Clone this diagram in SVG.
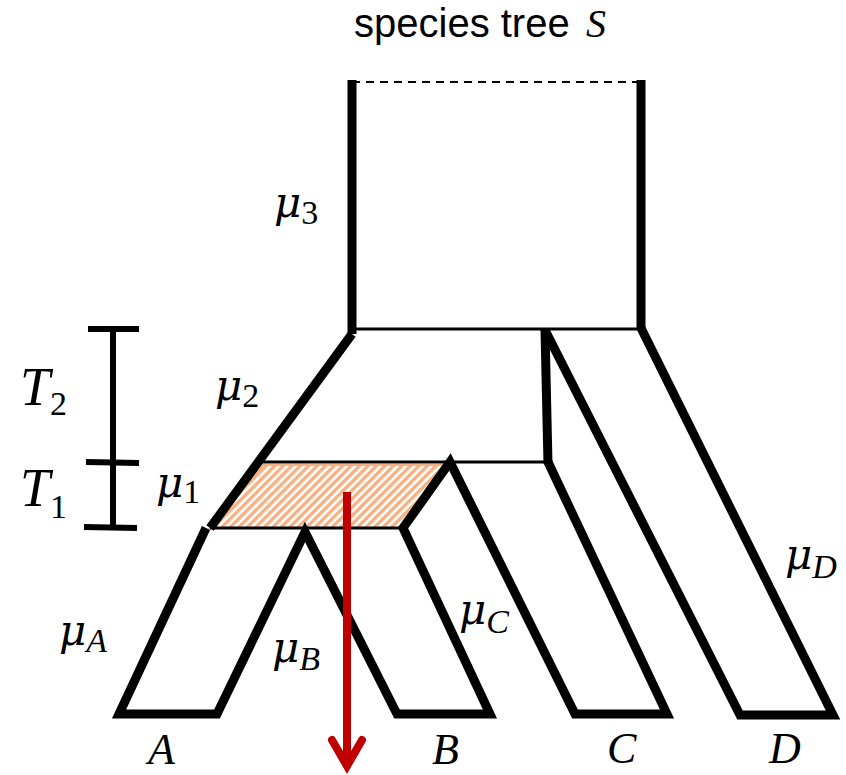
<svg xmlns="http://www.w3.org/2000/svg" width="846" height="775" viewBox="0 0 846 775">
<defs>
<pattern id="hatch" patternUnits="userSpaceOnUse" width="6" height="6" patternTransform="rotate(45)">
<rect width="6" height="6" fill="#FFFFFF"/>
<rect width="3.4" height="6" fill="#F4B183"/>
</pattern>
<style>
.thick{fill:none;stroke:#000;stroke-width:9;stroke-linejoin:miter;stroke-linecap:butt}
.thin{fill:none;stroke:#000;stroke-width:3}
.lab{font-family:"Liberation Serif","DejaVu Serif",serif;font-style:italic;fill:#000}
.mu{font-family:"DejaVu Serif","Liberation Serif",serif;font-size:42px}
.sub{font-family:"Liberation Serif",serif;font-size:34px;font-style:normal}
.subi{font-family:"Liberation Serif",serif;font-size:34px;font-style:italic}
.title{font-family:"Liberation Sans","Open Sans",sans-serif;font-size:40px;fill:#000}
</style>
</defs>
<rect width="846" height="775" fill="#fff"/>
<text class="title" x="354" y="37">species tree</text>
<text class="lab" x="586" y="37" font-size="40">S</text>

<g id="root-branch">
<line x1="352" y1="80" x2="352" y2="334" class="thick"/>
<line x1="641" y1="80" x2="641" y2="330" class="thick"/>
<line x1="352" y1="82" x2="641" y2="82" stroke="#000" stroke-width="2" stroke-dasharray="8,6"/>
<line x1="352" y1="329" x2="641" y2="329" class="thin"/>
</g>

<g id="interval">
<polygon points="263,465 450,465 403,528 210,528" fill="url(#hatch)" stroke="#F4B183" stroke-width="2"/>
<line x1="263" y1="462" x2="548" y2="462" class="thin"/>
<line x1="210" y1="528" x2="403" y2="528" class="thin"/>
</g>

<g id="branch-AB">
<polyline points="352,334 210,528" class="thick"/>
<polyline points="206,528 119,714 217,714 305,532 397,714 490,714 403,528 450,462 575,714 667,714 548,462" class="thick"/>
</g>

<g id="branch-CD">
<polyline points="548,464 545,330" class="thick"/>
<polyline points="545,330 740,715 833,715 641,328" class="thick"/>
</g>

<g id="scale">
<line x1="113" y1="328" x2="113" y2="528" stroke="#000" stroke-width="6"/>
<line x1="88" y1="329" x2="139" y2="329" stroke="#000" stroke-width="6"/>
<line x1="86" y1="462" x2="139" y2="463" stroke="#000" stroke-width="6"/>
<line x1="84" y1="527" x2="137" y2="528" stroke="#000" stroke-width="6"/>
<text class="lab" x="20" y="405" font-size="54">T<tspan class="sub" dy="10" font-size="42">2</tspan></text>
<text class="lab" x="20" y="506" font-size="54">T<tspan class="sub" dy="12" font-size="42">1</tspan></text>
</g>

<g id="labels">
<text class="lab mu" x="274" y="217">μ<tspan class="sub" dy="7">3</tspan></text>
<text class="lab mu" x="215" y="400">μ<tspan class="sub" dy="7">2</tspan></text>
<text class="lab mu" x="156" y="497">μ<tspan class="sub" dy="6">1</tspan></text>
<text class="lab mu" x="59" y="645">μ<tspan class="subi" dy="7">A</tspan></text>
<text class="lab mu" x="272" y="662">μ<tspan class="subi" dy="8">B</tspan></text>
<text class="lab mu" x="459" y="624">μ<tspan class="subi" dy="9">C</tspan></text>
<text class="lab mu" x="785" y="569">μ<tspan class="subi" dy="9">D</tspan></text>
<text class="lab" x="148" y="764" font-size="44">A</text>
<text class="lab" x="432" y="764" font-size="44">B</text>
<text class="lab" x="607" y="763" font-size="44">C</text>
<text class="lab" x="769" y="763" font-size="44">D</text>
</g>

<g id="arrow">
<line x1="347" y1="492" x2="347" y2="764" stroke="#C00000" stroke-width="8"/>
<polyline points="332,740 347,766 362,740" fill="none" stroke="#C00000" stroke-width="8" stroke-linecap="round" stroke-linejoin="miter"/>
</g>
</svg>
